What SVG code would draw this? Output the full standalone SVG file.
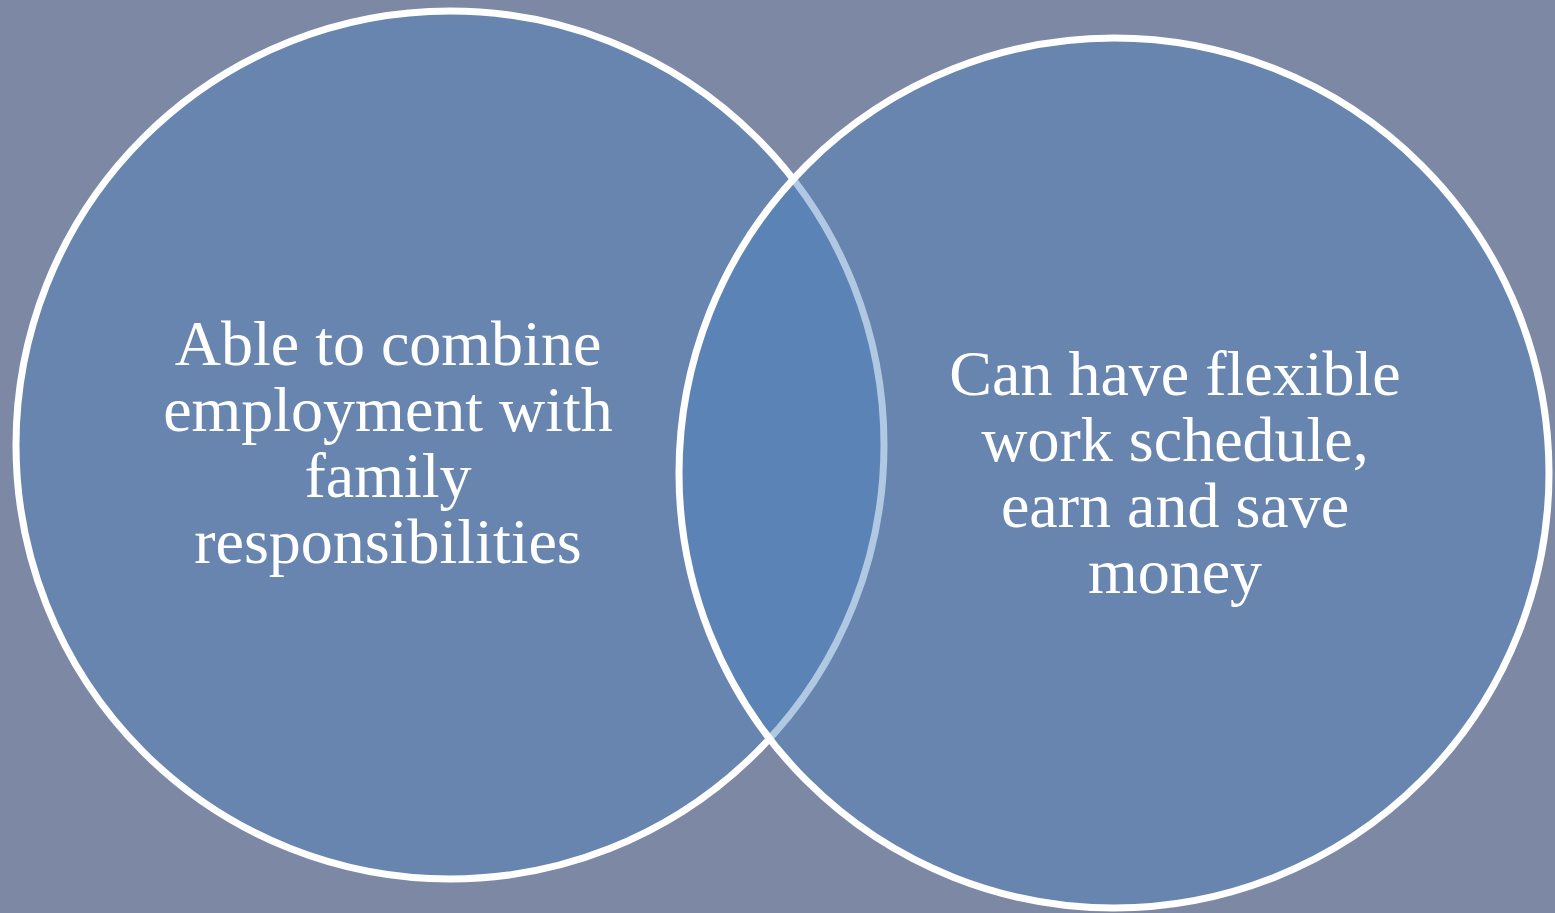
<svg xmlns="http://www.w3.org/2000/svg" width="1555" height="913" viewBox="0 0 1555 913">
<style>
.bg{fill:#7d88a5}
.circ{fill:rgb(78,130,190);fill-opacity:0.44;stroke:#ffffff;stroke-width:7}
.lbl{font-family:"Liberation Serif","Times New Roman",serif;font-size:64px;fill:#ffffff;text-anchor:middle}
</style>
<rect class="bg" x="0" y="0" width="1555" height="913"/>
<g id="circle-left">
<circle class="circ" cx="450" cy="445" r="434"/>
<text class="lbl" x="388" y="365">Able to combine</text>
<text class="lbl" x="388" y="431">employment with</text>
<text class="lbl" x="388" y="497">family</text>
<text class="lbl" x="388" y="563">responsibilities</text>
</g>
<g id="circle-right">
<circle class="circ" cx="1114" cy="473" r="435"/>
<text class="lbl" x="1175" y="395">Can have flexible</text>
<text class="lbl" x="1175" y="461">work schedule,</text>
<text class="lbl" x="1175" y="527">earn and save</text>
<text class="lbl" x="1175" y="593">money</text>
</g>
<g id="connectors"></g>
</svg>
